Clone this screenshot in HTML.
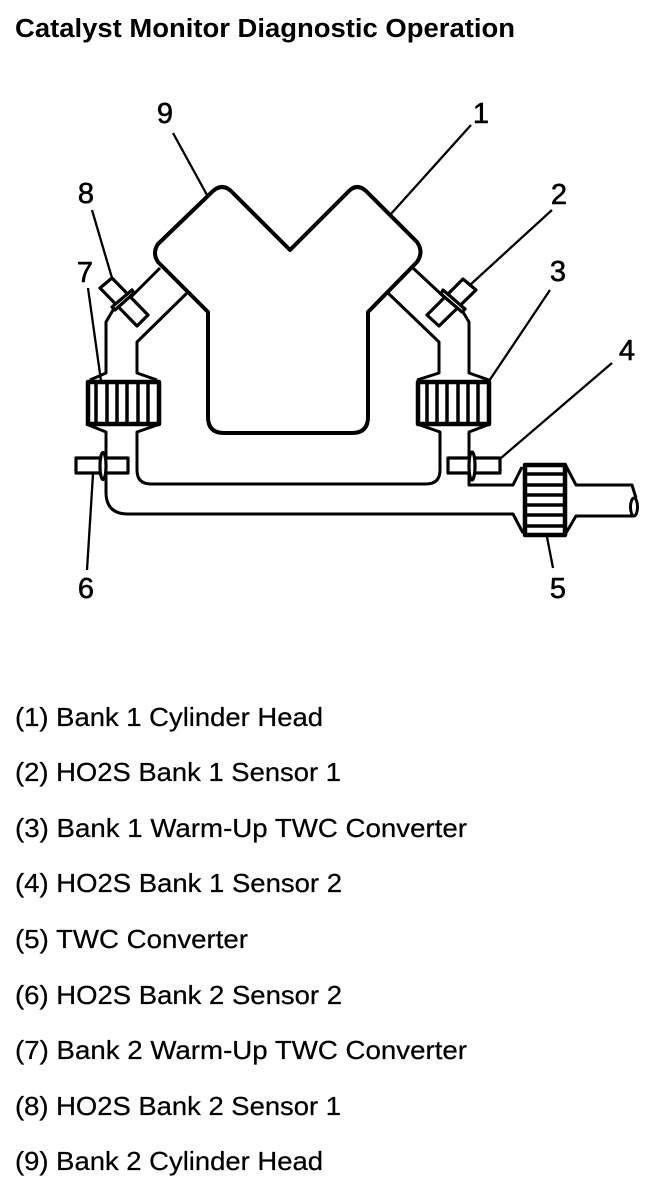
<!DOCTYPE html>
<html><head><meta charset="utf-8"><style>
html,body{margin:0;padding:0;background:#fff}
svg{display:block}
text{font-family:"Liberation Sans",sans-serif;fill:#000}
.b{font-size:26px;stroke:#000;stroke-width:.25}
.n{font-size:29px;stroke:#000;stroke-width:.6}
</style></head><body>
<svg width="672" height="1190" viewBox="0 0 672 1190" xmlns="http://www.w3.org/2000/svg">
<rect width="672" height="1190" fill="#fff"/>
<text x="15" y="37" font-size="25.5" font-weight="bold" textLength="500" lengthAdjust="spacingAndGlyphs">Catalyst Monitor Diagnostic Operation</text>
<g fill="none" stroke="#000" stroke-linejoin="round">
<!-- head -->
<path stroke-width="4" d="M208 312L158 262Q152 253 158 244L213 191Q222 183 231 191L290 250L349 191Q357 183 366 191L417 242Q424 252 417 262L368 312V417Q368 433 352 433H224Q208 433 208 417Z"/>
<g stroke-width="3">
<!-- left pipes -->
<path d="M160 268L131 297M113 310L106 322V373L90 380"/>
<path d="M187 293L137 342V373L157 380"/>
<path d="M86 424L106 432V492Q106 514 128 514H513L523 533"/>
<path d="M160 424L137 432V470Q137 484 151 484H426Q440 484 440 470V432L417 424"/>
<!-- right pipes -->
<path d="M388 293L439 342V373L417 380"/>
<path d="M413 268L443 296M463 312L469 322V373L489 380"/>
<path d="M490 424L469 432V485H513L522 467"/>
<path d="M566 466L576 485H632L636 498"/>
<path d="M566 533L576 516H634"/>
<ellipse cx="634" cy="507" rx="3.5" ry="9"/>
</g>
<!-- converters -->
<rect x="88" y="382" width="71" height="42" stroke-width="4.5"/>
<rect x="418" y="382" width="71" height="42" stroke-width="4.5"/>
<path stroke-width="3.5" d="M96 381V424M107 381V424M117 381V424M127 381V424M138 381V424M148 381V424"/>
<path stroke-width="3.5" d="M427 381V424M437 381V424M447 381V424M458 381V424M468 381V424M478 381V424"/>
<!-- TWC -->
<rect x="525" y="465" width="40" height="70" stroke-width="4.5"/>
<path stroke-width="3.5" d="M525 474H565M525 485H565M525 495H565M525 505H565M525 515H565M525 526H565"/>
<!-- sensors -->
<g stroke-width="3.2" fill="#fff">
<path d="M100 288L112 278L148 315L137 326Z"/>
<path d="M427 315L463 279L476 290L439 326Z"/>
<rect x="76" y="458" width="52" height="15"/>
<rect x="448" y="458" width="52" height="15"/>
<path d="M112 307L132 290L134 293L115 310Z"/>
<path d="M443 290L465 309L462 312L441 294Z"/>
<ellipse cx="103" cy="466" rx="3" ry="13.5"/>
<ellipse cx="472" cy="466" rx="3" ry="14"/>
</g>
<!-- leaders -->
<path stroke-width="2.3" d="M173 133L207 195M471 125L390 215M92 210L112 278M88 288L101 381M552 210L470 285M550 290L489 381M612 363L501 458M93 474L87 570M547 537L553 568"/>
</g>
<g text-anchor="middle">
<text class="n" x="165" y="123">9</text>
<text class="n" x="481" y="123">1</text>
<text class="n" x="86" y="203">8</text>
<text class="n" x="559" y="204">2</text>
<text class="n" x="85" y="282">7</text>
<text class="n" x="558" y="281">3</text>
<text class="n" x="627" y="360">4</text>
<text class="n" x="86" y="598">6</text>
<text class="n" x="558" y="598">5</text>
</g>
<text class="b" x="15" y="726" textLength="308" lengthAdjust="spacingAndGlyphs">(1) Bank 1 Cylinder Head</text>
<text class="b" x="15" y="781" textLength="326" lengthAdjust="spacingAndGlyphs">(2) HO2S Bank 1 Sensor 1</text>
<text class="b" x="15" y="837" textLength="452" lengthAdjust="spacingAndGlyphs">(3) Bank 1 Warm-Up TWC Converter</text>
<text class="b" x="15" y="892" textLength="327" lengthAdjust="spacingAndGlyphs">(4) HO2S Bank 1 Sensor 2</text>
<text class="b" x="15" y="948" textLength="233" lengthAdjust="spacingAndGlyphs">(5) TWC Converter</text>
<text class="b" x="15" y="1004" textLength="327" lengthAdjust="spacingAndGlyphs">(6) HO2S Bank 2 Sensor 2</text>
<text class="b" x="15" y="1059" textLength="452" lengthAdjust="spacingAndGlyphs">(7) Bank 2 Warm-Up TWC Converter</text>
<text class="b" x="15" y="1115" textLength="326" lengthAdjust="spacingAndGlyphs">(8) HO2S Bank 2 Sensor 1</text>
<text class="b" x="15" y="1170" textLength="308" lengthAdjust="spacingAndGlyphs">(9) Bank 2 Cylinder Head</text>
</svg>
</body></html>
